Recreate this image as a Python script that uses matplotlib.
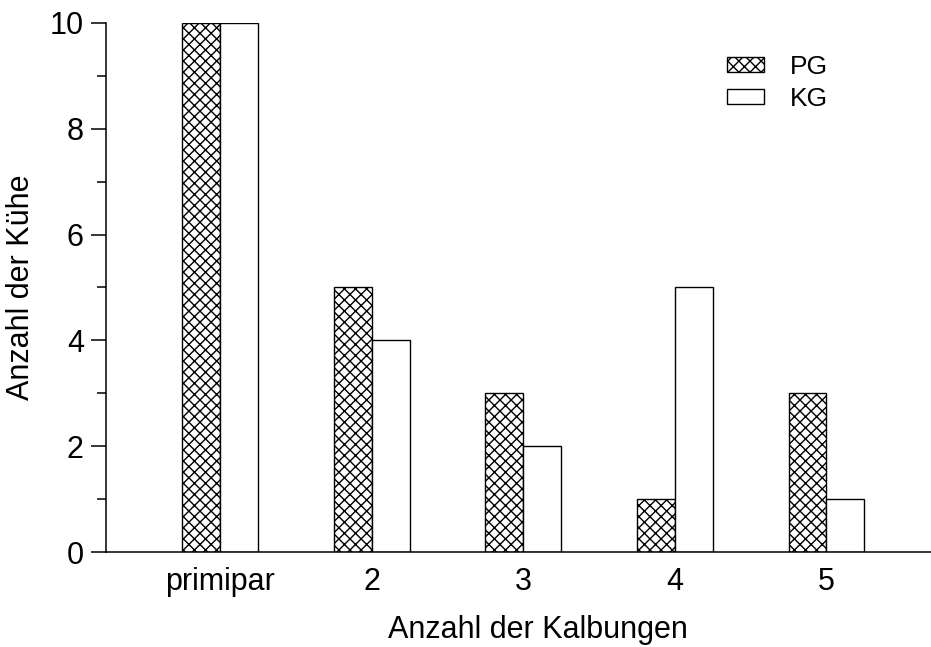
import numpy as np
import matplotlib.pyplot as plt
from matplotlib.ticker import MultipleLocator

plt.rcParams['font.family'] = ['Liberation Sans', 'DejaVu Sans']
plt.rcParams['hatch.linewidth'] = 1.0

categories = ['primipar', '2', '3', '4', '5']
pg_values = [10, 5, 3, 1, 3]
kg_values = [10, 4, 2, 5, 1]

fig = plt.figure(figsize=(9.31, 6.47), dpi=100)
ax = fig.add_axes([0.1139, 0.1468, 0.8861, 0.8177])

x = np.arange(len(categories))
w = 0.25
ax.bar(x - w / 2, pg_values, w, facecolor='white', edgecolor='black',
       hatch='xxx', linewidth=1, label='PG')
ax.bar(x + w / 2, kg_values, w, facecolor='white', edgecolor='black',
       linewidth=1, label='KG')

ax.set_xlim(-0.752, 4.69)
ax.set_ylim(0, 10)
ax.set_xticks(x)
ax.set_xticklabels(categories, fontsize=22)
ax.tick_params(axis='x', length=0, pad=11)
ax.yaxis.set_major_locator(MultipleLocator(2))
ax.yaxis.set_minor_locator(MultipleLocator(1))
ax.tick_params(axis='y', which='major', length=11, width=1.1, labelsize=22, pad=5)
ax.tick_params(axis='y', which='minor', length=6.5, width=1.1)
for s in ['left', 'bottom']:
    ax.spines[s].set_linewidth(1.1)
ax.spines['top'].set_visible(False)
ax.spines['right'].set_visible(False)
ax.set_xlabel('Anzahl der Kalbungen', fontsize=22)
ax.xaxis.set_label_coords(0.524, -0.148)
ax.xaxis.label.set_va('center')
ax.set_ylabel('Anzahl der Kühe', fontsize=22, labelpad=10)

ax.legend(loc='upper left', bbox_to_anchor=(0.781, 0.915),
          bbox_transform=fig.transFigure, frameon=False, borderpad=0,
          borderaxespad=0, fontsize=19, handlelength=1.38, handleheight=0.5,
          handletextpad=1.0, labelspacing=0.3)

fig.savefig('out.png', dpi=100)
